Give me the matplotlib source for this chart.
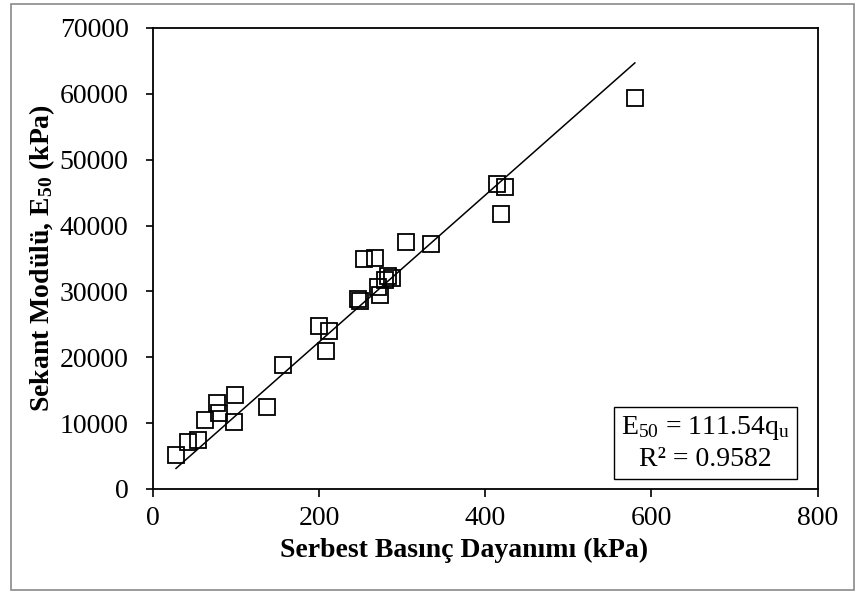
import matplotlib
matplotlib.use('Agg')
import matplotlib.pyplot as plt
from matplotlib.patches import Rectangle
import numpy

plt.rcParams['font.family'] = ['Liberation Serif', 'DejaVu Serif']
plt.rcParams['mathtext.fontset'] = 'custom'
plt.rcParams['mathtext.rm'] = 'Liberation Serif'
plt.rcParams['mathtext.it'] = 'Liberation Serif:italic'
plt.rcParams['mathtext.bf'] = 'Liberation Serif:bold'

# serbest basinc dayanimi (kPa) ve sekant modulu (kPa)
qu  = [28, 42, 54, 63, 77, 80, 99, 98, 137, 157, 200, 212, 209, 247, 249,
       254, 267, 271, 273, 279, 283, 288, 305, 335, 414, 424, 419, 580]
E50 = [5100, 7100, 7500, 10400, 13000, 11500, 14300, 10100, 12500, 18800,
       24700, 24000, 21000, 28900, 28600, 34900, 35000, 30700, 29500, 31700,
       32400, 32000, 37500, 37200, 46300, 45800, 41800, 59300]

Slope = 111.54
R2    = 0.9582

xTicks = [0, 200, 400, 600, 800]
yTicks = [0, 10000, 20000, 30000, 40000, 50000, 60000, 70000]

fig = plt.figure(figsize=(8.56, 5.94), dpi=100)
ax  = fig.add_axes([0.1784, 0.1768, 0.7769, 0.7761])

ax.plot(qu, E50, 's', markersize=12, mfc='none', mec='black', mew=1.3, zorder=3)

xFit = numpy.array([min(qu), max(qu)])
ax.plot(xFit, Slope * xFit, 'k-', lw=1.1, zorder=2)

ax.set_xlim(0, 800)
ax.set_ylim(0, 70000)
ax.set_xticks(xTicks)
ax.set_yticks(yTicks)
ax.tick_params(direction='out', length=5.4, width=1.2, labelsize=20)
ax.tick_params(axis='x', pad=7)
ax.tick_params(axis='y', pad=12)
for s in ax.spines.values():
    s.set_linewidth(1.3)

fig.text(42/856, 1 - 258/594, r'Sekant Modülü, E$_{\mathbf{50}}$ (kPa)', fontsize=20,
         fontweight='bold', rotation=90, ha='center', va='center')
fig.text(464/856, 1 - 550/594, 'Serbest Basınç Dayanımı (kPa)', fontsize=20,
         fontweight='bold', ha='center', va='center')

# denklem kutusu
ax.add_patch(Rectangle((0.6937, 0.021), 0.2747, 0.1575, transform=ax.transAxes,
                       fill=False, ec='black', lw=1.0, zorder=4))
ax.text(0.831, 0.132, r'E$_{50}$ = %.2fq$_{\mathrm{u}}$' % Slope, transform=ax.transAxes,
        ha='center', va='center', fontsize=20)
ax.text(0.831, 0.063, 'R² = %.4f' % R2, transform=ax.transAxes,
        ha='center', va='center', fontsize=20)

# dis cerceve
fig.patches.append(Rectangle((11/856, 4/594), 843/856, 586/594, transform=fig.transFigure,
                             fill=False, ec='#8a8a8a', lw=1.2))

fig.savefig('out.png', dpi=100)
